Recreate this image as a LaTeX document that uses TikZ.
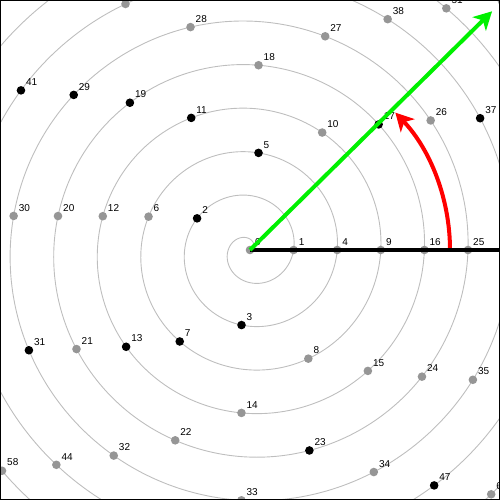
\documentclass[tikz,border=0pt]{standalone}
\usepackage{fontspec}
\setmainfont{Liberation Sans}
\usetikzlibrary{arrows.meta}

\begin{document}
\begin{tikzpicture}[x=1pt,y=1pt,%
spiral/.style = {draw={rgb,255:red,190;green,190;blue,190}, line width=0.9pt},
dot/.style = {circle, inner sep=0pt, minimum size=8.6pt},
prime/.style = {dot, fill=black},
composite/.style = {dot, fill={rgb,255:red,150;green,150;blue,150}},
num label/.style = {anchor=south west, inner sep=0pt, font=\fontsize{10}{12}\selectfont, xshift=5pt, yshift=4.5pt},
head/.style = {-{Stealth[length=18pt, width=19pt, inset=5pt]}}]
\useasboundingbox (-250,-250) rectangle (250,250);
\begin{scope}
\clip (-250,-250) rectangle (250,250);
\draw[spiral] plot[domain=0:8.4, samples=900, smooth] ({43.6*\x*cos(360*\x)}, {43.6*\x*sin(360*\x)});
% n sits at radius a*sqrt(n), angle 360*sqrt(n)
\foreach \n in {0,...,72} {
  \pgfmathsetmacro{\t}{sqrt(\n)}
  \pgfmathtruncatemacro{\isp}{isprime(\n)}
  \ifnum\isp=1 \def\kind{prime}\else\def\kind{composite}\fi
  \node[\kind] (p\n) at ({360*\t}:{43.6*\t}) {};
  \node[num label] (l\n) at (p\n.center) {\n};
}
\coordinate (arc start) at (200,0);
\draw[head, red, line width=4pt] (arc start) arc[start angle=0, end angle=43.4, radius=200];
\coordinate (east end) at (250,0);
\draw[line width=4pt] (p0.center) -- (east end);
\coordinate (green tip) at (44.6:340);
\draw[head, draw={rgb,255:red,0;green,240;blue,0}, fill={rgb,255:red,0;green,240;blue,0}, line width=4pt] (p0.center) -- (green tip);
\end{scope}
\draw[line width=1pt] (-249.5,-249.5) rectangle (249.5,249.5);
\end{tikzpicture}
\end{document}
